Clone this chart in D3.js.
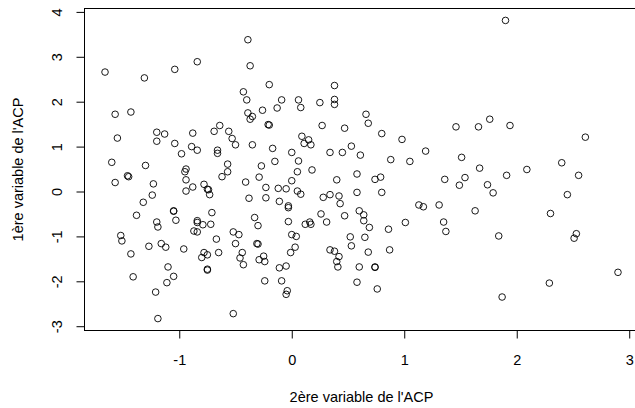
<!DOCTYPE html>
<html>
<head>
<meta charset="utf-8">
<script src="https://d3js.org/d3.v7.min.js"></script>
<style>
  body { margin: 0; background: #fff; }
  text { font-family: "Liberation Sans", Arial, Helvetica, sans-serif; }
</style>
</head>
<body>
<div id="scatter"></div>
<script>
// data: x = 2nd PCA variable, y = 1st PCA variable
var pc2 = [
  -0.39,-1.66,-0.84,-1.04,-0.37,-1.31,-0.43,-0.40,-1.57,-1.43,
  -0.39,-0.35,-0.37,-1.55,-1.20,-1.13,-1.20,-0.88,-1.04,-0.98,
  -0.89,-0.84,-0.69,-0.64,-0.56,-0.53,-0.50,-0.66,-0.66,-0.35,
  -1.60,-1.30,-0.57,
  -0.94,-0.95,-1.57,-1.46,-1.45,-1.23,-1.24,-1.32,-1.38,-1.52,
  -1.51,-1.43,-1.41,-1.21,-1.19,-1.20,-1.19,-1.27,-1.16,-1.12,
  -1.10,-1.05,-1.11,-1.05,-1.05,-1.03,-0.96,-0.94,-0.94,-0.88,
  -0.78,-0.75,-0.74,-0.73,-0.71,-0.72,-0.84,-0.84,-0.79,-0.87,
  -0.84,-0.67,-0.65,-0.78,-0.75,-0.80,-0.75,-0.75,-0.62,-0.57,
  -0.41,-0.38,-0.33,-0.30,-0.52,-0.47,-0.50,-0.44,-0.46,-0.43,
  -0.52,
  -0.27,-0.15,0.06,0.88,1.05,-0.29,-0.23,-0.12,-0.05,0.00,
  0.05,0.18,0.05,0.08,-0.23,-0.11,-0.03,-0.03,-0.31,-0.30,
  -0.29,-0.25,-0.24,-0.03,0.00,0.04,0.03,-0.01,-0.11,-0.05,
  -0.24,-0.09,-0.04,-0.05,0.12,0.16,0.17,0.26,0.31,0.28,
  0.34,0.42,0.43,0.40,0.58,0.58,0.47,0.60,0.64,0.64,
  0.69,0.52,0.53,0.65,0.68,0.34,0.38,0.42,0.40,0.41,
  0.60,0.74,0.74,0.58,0.76,0.74,0.79,0.80,0.86,0.87,
  1.01,1.13,1.17,1.31,1.36,1.35,1.37,
  1.51,1.67,2.40,2.09,1.54,1.49,1.74,1.79,1.91,2.55,
  2.45,1.63,2.30,1.84,2.53,2.51,2.90,2.29,1.87,1.90,
  1.46,1.66,1.76,1.94,2.61,
  -0.20,0.38,-0.09,0.06,-0.13,0.08,0.25,0.38,0.38,-0.26,
  0.66,0.68,-0.21,-0.20,0.27,0.47,0.80,0.98,1.19,0.09,
  0.15,0.11,0.17,-0.17,0.00,0.34,0.45,0.53,0.61
];

var pc1 = [
  3.38,2.66,2.89,2.72,2.80,2.53,2.22,2.04,1.72,1.77,
  1.75,1.67,1.61,1.19,1.32,1.28,1.12,1.30,1.07,0.84,
  1.00,0.92,1.34,1.47,1.34,1.18,1.04,0.92,0.85,1.04,
  0.65,0.58,0.61,
  0.50,0.44,0.20,0.35,0.33,0.17,-0.08,-0.24,-0.53,-0.98,
  -1.10,-1.39,-1.90,-2.24,-2.83,-0.68,-0.79,-1.22,-1.16,-1.24,
  -1.68,-1.89,-2.03,-0.44,-0.43,-0.64,-1.28,0.26,0.01,0.10,
  0.16,0.05,0.04,-0.07,-0.47,-0.73,-0.65,-0.69,-0.74,-0.88,
  -0.90,-1.06,-1.36,-1.36,-1.41,-1.47,-1.75,-1.73,0.33,0.44,
  0.21,-0.15,-0.58,-0.76,-0.90,-0.96,-1.16,-1.36,-1.48,-1.63,
  -2.72,
  0.57,0.67,0.68,0.71,0.67,0.32,0.09,0.07,0.06,0.24,
  0.44,0.48,0.01,-0.06,-0.14,-0.22,-0.32,-0.36,-1.16,-1.17,
  -1.52,-1.44,-1.56,-0.67,-0.96,-1.00,-1.24,-1.36,-1.70,-1.66,
  -1.99,-1.99,-2.21,-2.29,-0.73,-0.68,-0.73,-0.50,-0.68,-0.13,
  -0.07,-0.10,-0.27,0.26,0.39,-0.02,-0.54,-0.43,-0.52,-0.65,
  -0.80,-1.01,-1.21,-1.02,-1.35,-1.30,-1.33,-1.45,-1.56,-1.68,
  -1.68,-1.69,-1.68,-2.02,-2.17,0.27,0.32,-0.02,-0.84,-1.30,
  -0.69,-0.30,-0.34,-0.30,0.27,-0.68,-0.89,
  0.76,0.52,0.64,0.49,0.31,0.14,0.15,-0.03,0.36,0.36,
  -0.07,-0.43,-0.49,-0.99,-0.94,-1.04,-1.80,-2.04,-2.35,3.81,
  1.44,1.44,1.61,1.47,1.21,
  2.38,2.36,2.04,2.04,1.86,1.87,1.98,2.05,1.94,1.81,
  1.72,1.52,1.49,1.48,1.47,1.41,1.29,1.16,0.90,1.23,
  1.15,1.07,1.04,0.96,0.87,0.87,0.87,1.01,0.81
];

// tick values
var xTicks = [-1, 0, 1, 2, 3];
var yTicks = [-3, -2, -1, 0, 1, 2, 3, 4];

var xTitle = "2ère variable de l'ACP";
var yTitle = "1ère variable de l'ACP";

// svg params
var svgWidth = 635;
var svgHeight = 408;
var fontSize = "14.5px";

// margins (plot box runs a bit past the right edge, like the original)
var margin = { top: 8.5, right: -3.5, bottom: 77.5, left: 84.5 };

var chartWidth = svgWidth - margin.left - margin.right;
var chartHeight = svgHeight - margin.top - margin.bottom;

var svg = d3.select("#scatter")
    .append("svg")
    .attr("width", svgWidth)
    .attr("height", svgHeight)
    .style("display", "block")
    .style("background", "#fff");

var g = svg.append("g")
    .attr("transform", `translate(${margin.left}, ${margin.top})`);

var data = pc2.map(function(d, i) { return { x: d, y: pc1[i] }; });

/// R style range: data extent padded by 4% each side
function padded(ext) {
    var r = ext[1] - ext[0];
    return [ext[0] - 0.04 * r, ext[1] + 0.04 * r];
}

var xScale = d3.scaleLinear()
    .domain(padded(d3.extent(data, d => d.x)))
    .range([0, chartWidth]);

var yScale = d3.scaleLinear()
    .domain(padded(d3.extent(data, d => d.y)))
    .range([chartHeight, 0]);

// x axis
var xAxisG = g.append("g")
    .attr("transform", `translate(0, ${chartHeight})`)
    .call(d3.axisBottom(xScale)
        .tickValues(xTicks)
        .tickSize(8)
        .tickPadding(16)
        .tickFormat(d => String(d)));

// y axis, labels turned like base R
var yAxisG = g.append("g")
    .call(d3.axisLeft(yScale)
        .tickValues(yTicks)
        .tickSize(8)
        .tickFormat(d => String(d)));

yAxisG.selectAll(".tick text")
    .attr("x", 0)
    .attr("y", 0)
    .attr("dy", "0.36em")
    .attr("text-anchor", "middle")
    .attr("transform", "translate(-28, 0) rotate(-90)");

g.selectAll(".domain").remove();
g.selectAll(".tick line").attr("stroke", "#000");
g.selectAll(".tick text")
    .attr("fill", "#000")
    .style("font-size", fontSize);

// plot box
g.append("rect")
    .attr("x", 0)
    .attr("y", 0)
    .attr("width", chartWidth)
    .attr("height", chartHeight)
    .attr("fill", "none")
    .attr("stroke", "#000")
    .attr("stroke-width", 1);

// points (open circles)
g.selectAll("circle")
    .data(data)
    .enter()
    .append("circle")
    .attr("cx", d => xScale(d.x))
    .attr("cy", d => yScale(d.y))
    .attr("r", 3.3)
    .attr("fill", "none")
    .attr("stroke", "#000")
    .attr("stroke-width", 0.9);

// axis titles
svg.append("text")
    .attr("x", margin.left + chartWidth / 2)
    .attr("y", margin.top + chartHeight + 66)
    .attr("dy", "0.36em")
    .attr("text-anchor", "middle")
    .style("font-size", fontSize)
    .text(xTitle);

svg.append("text")
    .attr("transform", `translate(18, ${margin.top + chartHeight / 2}) rotate(-90)`)
    .attr("dy", "0.36em")
    .attr("text-anchor", "middle")
    .style("font-size", fontSize)
    .text(yTitle);
</script>
</body>
</html>
